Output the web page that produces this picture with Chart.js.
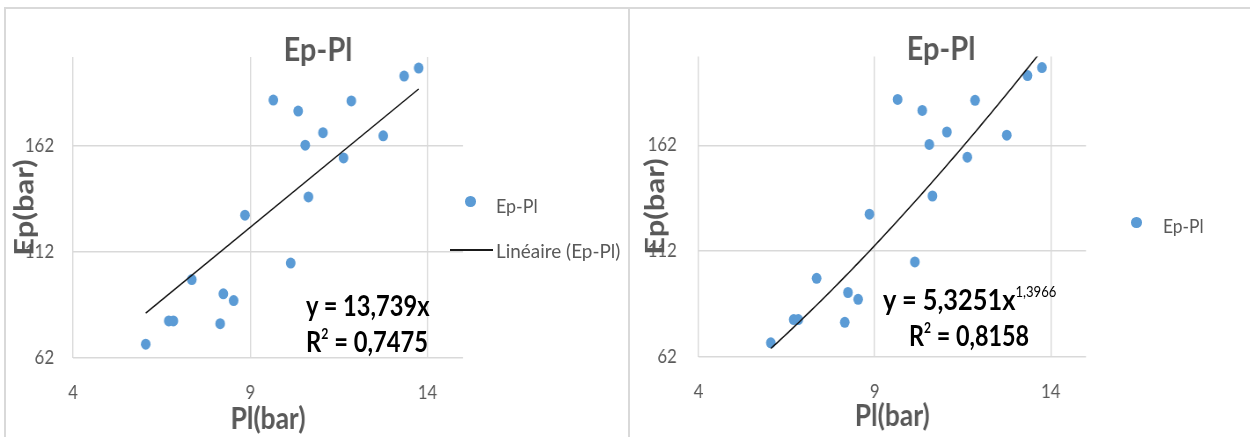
<!DOCTYPE html>
<html>
<head>
<meta charset="utf-8">
<script src="https://cdn.jsdelivr.net/npm/chart.js@4.4.1/dist/chart.umd.min.js"></script>
<style>
  html, body { margin: 0; padding: 0; background: #fff; }
  #stage { position: relative; width: 1250px; height: 437px; overflow: hidden; background: #fff; font-family: Lato, "Open Sans", sans-serif; }
  .line { position: absolute; background: #d9d9d9; }
  canvas.panel { position: absolute; top: 0; transform-origin: 0 0; }
  .txt { position: absolute; white-space: nowrap; line-height: 1; transform-origin: 0 50%; }
  .leg { font-size: 20px; color: #595959; }
  .eq { font-size: 29px; font-weight: bold; color: #000; }
  .eq sup { font-size: 15px; line-height: 0; vertical-align: 13px; }
  .eq sup.exp { font-weight: normal; }
  .dot { position: absolute; width: 10.5px; height: 10.5px; border-radius: 50%; background: #5b9bd5; }
  .lgline { position: absolute; height: 1.5px; background: #1a1a1a; }
</style>
</head>
<body>
<div id="stage">
  <div class="line" style="left:4px;top:7px;width:1246px;height:2px;"></div>
  <div class="line" style="left:4px;top:7px;width:2px;height:430px;"></div>
  <div class="line" style="left:628px;top:7px;width:2px;height:430px;"></div>

  <canvas id="c1" class="panel"></canvas>
  <canvas id="c2" class="panel"></canvas>

  <div class="dot" style="left:465.2px;top:196.2px;"></div>
  <div id="lg1a" class="txt leg">Ep-Pl</div>
  <div class="lgline" style="left:450px;top:249.3px;width:43px;"></div>
  <div id="lg1b" class="txt leg">Linéaire (Ep-Pl)</div>
  <div id="eq1a" class="txt eq"></div>
  <div id="eq1b" class="txt eq"></div>

  <div class="dot" style="left:1131.2px;top:217.2px;"></div>
  <div id="lg2a" class="txt leg">Ep-Pl</div>
  <div id="eq2a" class="txt eq"></div>
  <div id="eq2b" class="txt eq"></div>
</div>
<script>
// ---- data ----
const pl = [9.65, 10.35, 11.85, 13.34, 13.75, 11.05, 10.55, 12.75, 11.63, 10.64, 8.85, 10.14, 7.35, 8.24, 8.53, 6.70, 6.83, 8.15, 6.05];
const ep = [183.7, 178.5, 183.3, 195.0, 198.8, 168.3, 162.4, 166.8, 156.4, 138.0, 129.4, 106.8, 99.0, 92.3, 89.1, 79.5, 79.5, 78.2, 68.5];
const xTickValues = [4, 9, 14];
const yTickValues = [62, 112, 162];
const xRange = [4, 15];
const yRange = [62, 204];
const chartTitle = 'Ep-Pl';
const xTitle = 'Pl(bar)';
const yTitle = 'Ep(bar)';
const seriesName = 'Ep-Pl';
const linearName = 'Linéaire (Ep-Pl)';
const linearSlope = 13.739;
const linearSlopeLabel = '13,739';
const linearR2Label = '0,7475';
const powerCoef = 5.3251;
const powerExp = 1.3966;
const powerCoefLabel = '5,3251';
const powerExpLabel = '1,3966';
const powerR2Label = '0,8158';

// ---- rendering ----
const C = 0.88; // horizontal compression of the reference picture
const FONT = 'Lato';
const GREY = '#595959';
const BLUE = '#5b9bd5';

const points = pl.map((x, i) => ({ x: x, y: ep[i] }));
const xMin = Math.min(...pl), xMax = Math.max(...pl);
const linearLine = [xMin, xMax].map(x => ({ x: x, y: linearSlope * x }));
const powerLine = [];
for (let i = 0; i <= 80; i++) {
  const x = xMin + (xMax - xMin) * i / 80;
  powerLine.push({ x: x, y: powerCoef * Math.pow(x, powerExp) });
}

function makeChart(id, left, L, trend) {
  const cv = document.getElementById(id);
  cv.width = L.w; cv.height = 437;
  cv.style.left = left + 'px';
  cv.style.transform = 'scaleX(' + C + ')';
  return new Chart(cv, {
    type: 'scatter',
    data: {
      datasets: [
        { label: trend.label, data: trend.data, showLine: true, borderColor: '#111', borderWidth: 1.5,
          pointRadius: 0, fill: false, tension: 0, order: 0 },
        { label: seriesName, data: points, backgroundColor: BLUE, borderColor: BLUE, borderWidth: 0,
          pointRadius: 5.5, order: 1 }
      ]
    },
    options: {
      responsive: false, animation: false, devicePixelRatio: 1,
      layout: { padding: { left: L.pl, right: 0, top: 0, bottom: 0 } },
      plugins: {
        legend: { display: false },
        tooltip: { enabled: false },
        title: { display: true, text: chartTitle, color: GREY,
          font: { family: FONT, size: 33, weight: 'bold', lineHeight: L.titleLH },
          padding: { top: L.titlePadTop, bottom: 0 } }
      },
      scales: {
        x: { type: 'linear', min: xRange[0], max: xRange[1],
          afterBuildTicks: s => { s.ticks = xTickValues.map(v => ({ value: v })); },
          afterFit: s => { s.height = L.xH; },
          grid: { color: '#d9d9d9', lineWidth: 1.4, drawTicks: false },
          border: { display: false },
          ticks: { color: GREY, font: { family: FONT, size: 19 }, padding: L.xTickPad, maxRotation: 0, autoSkip: false },
          title: { display: true, text: xTitle, color: GREY,
            font: { family: FONT, size: 30, weight: 'bold', lineHeight: '30px' },
            padding: { top: 0, bottom: L.xTitlePadB } } },
        y: { type: 'linear', min: yRange[0], max: yRange[1],
          afterBuildTicks: s => { s.ticks = yTickValues.map(v => ({ value: v })); },
          afterFit: s => { s.width = L.yW; },
          grid: { color: '#d9d9d9', lineWidth: 1.4, drawTicks: false },
          border: { display: false },
          ticks: { color: GREY, font: { family: FONT, size: 19 }, padding: L.yTickPad },
          title: { display: true, text: yTitle, color: GREY,
            font: { family: FONT, size: 31, weight: 'bold', lineHeight: '30px' },
            padding: { top: L.yTitlePadTop, bottom: 0 } } },
        legendSpace: { type: 'linear', position: 'right', display: true,
          afterFit: s => { s.width = L.padR; },
          grid: { display: false, drawTicks: false }, border: { display: false },
          ticks: { display: false } }
      }
    }
  });
}

makeChart('c1', 0, { w: 715, pl: 7.7, yW: 75.3, padR: 188.9, yTickPad: 21.6, yTitlePadTop: 5.7,
  titlePadTop: 43, titleLH: '14px', xH: 79, xTickPad: 23.6, xTitlePadB: 3 },
  { label: linearName, data: linearLine });
makeChart('c2', 629, { w: 706, pl: 3, yW: 76.1, padR: 186.7, yTickPad: 24.8, yTitlePadTop: 11.5,
  titlePadTop: 41.4, titleLH: '15.2px', xH: 80.5, xTickPad: 23.8, xTitlePadB: 6 },
  { label: 'Puissance (Ep-Pl)', data: powerLine });

// ---- legend and equation text ----
document.getElementById('eq1a').textContent = 'y = ' + linearSlopeLabel + 'x';
document.getElementById('eq1b').innerHTML = 'R<sup>2</sup> = ' + linearR2Label;
document.getElementById('eq2a').innerHTML = 'y = ' + powerCoefLabel + 'x<sup class="exp">' + powerExpLabel + '</sup>';
document.getElementById('eq2b').innerHTML = 'R<sup>2</sup> = ' + powerR2Label;

function place(id, left, cy, targetW) {
  const el = document.getElementById(id);
  el.style.left = left + 'px';
  el.style.top = cy + 'px';
  const k = targetW / el.offsetWidth;
  el.style.transform = 'translateY(-50%) scaleX(' + k + ')';
}
place('lg1a', 496, 205, 42);
place('lg1b', 496, 250, 124);
place('lg2a', 1163, 225, 41);
place('eq1a', 306, 304, 124);
place('eq1b', 306, 340, 122);
place('eq2a', 883, 298, 173);
place('eq2b', 909, 334, 120);
</script>
</body>
</html>
